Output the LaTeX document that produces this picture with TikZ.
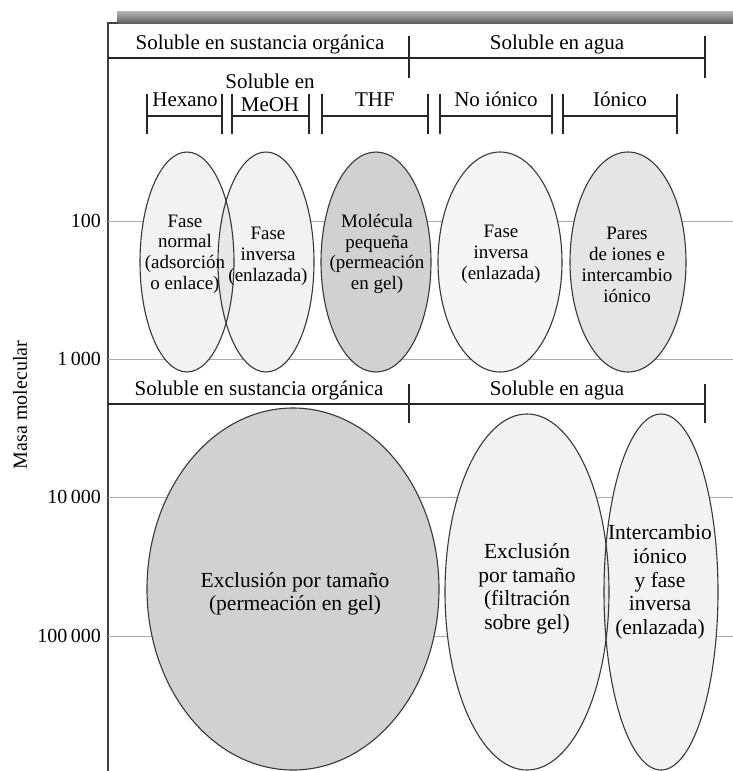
\documentclass[tikz,border=0pt]{standalone}
\usepackage{fontspec}
\setmainfont{Liberation Serif}
\begin{document}
\begin{tikzpicture}[x=1pt,y=-1pt,
  axisline/.style={draw=black!75,line width=1.4pt},
  rule/.style={draw=black!85,line width=1.3pt},
  gridline/.style={draw=black!33,line width=1pt},
  hdr/.style={font=\fontsize{21}{23}\selectfont,anchor=base,inner sep=0pt},
  ticklabel/.style={font=\fontsize{20}{22}\selectfont,anchor=east,inner sep=0pt},
  outline/.style={draw=black!78,line width=1.1pt},
  small/.style={font=\fontsize{19}{20.8}\selectfont,align=center,inner sep=0pt},
  big/.style={font=\fontsize{21.5}{23.6}\selectfont,align=center,inner sep=0pt},
  lightfill/.style={fill=black!5},
  palefill/.style={fill=black!4},
  midfill/.style={fill=black!10},
  darkfill/.style={fill=black!18},
  lapfill/.style={fill=black!9}
]
\useasboundingbox (0,0) rectangle (733,771);

% shaded bar along the top and the molecular mass axis
\shade[top color=black!28,bottom color=black!62] (117,11) rectangle (733,23);
\coordinate (axtop) at (108,23);
\coordinate (axbar) at (118,23);
\coordinate (axbot) at (108,771);
\draw[axisline] (axbar) -- (axtop) -- (axbot);

% grid lines at each decade
\foreach \yy in {221,359,497,636}
  \draw[gridline] (108,\yy) -- (733,\yy);

% axis values
\node[ticklabel] (m2) at (101,221) {100};
\node[ticklabel] (m3) at (101,359) {1\,000};
\node[ticklabel] (m4) at (101,497) {10\,000};
\node[ticklabel] (m5) at (101,636) {100\,000};
\node[font=\fontsize{20}{22}\selectfont,rotate=90,inner sep=0pt] (ylab) at (20,405) {Masa molecular};

% upper header
\coordinate (h1l) at (108,58);
\coordinate (h1r) at (705,58);
\draw[rule] (h1l) -- (h1r);
\draw[rule] (409,36) -- (409,78);
\draw[rule] (705,36) -- (705,78);
\node[hdr] (org1) at (260,49) {Soluble en sustancia orgánica};
\node[hdr] (agua1) at (557,49) {Soluble en agua};

% solvent ranges
\foreach \a/\b in {147/222,232/309,322/428,440/552,563/677}{
  \draw[rule] (\a,116) -- (\b,116);
  \draw[rule] (\a,94) -- (\a,134);
  \draw[rule] (\b,94) -- (\b,134);
}
\node[hdr] (hex) at (185,106) {Hexano};
\node[hdr] (meoh1) at (270,88) {Soluble en};
\node[hdr] (meoh2) at (270,111) {MeOH};
\node[hdr] (thf) at (375,106) {THF};
\node[hdr] (noion) at (496,106) {No iónico};
\node[hdr] (ion) at (620,106) {Iónico};

% lower header
\coordinate (h2l) at (108,404);
\coordinate (h2r) at (705,404);
\draw[rule] (h2l) -- (h2r);
\draw[rule] (409,384) -- (409,423);
\draw[rule] (705,384) -- (705,423);
\node[hdr] (org2) at (259,395) {Soluble en sustancia orgánica};
\node[hdr] (agua2) at (557,395) {Soluble en agua};

% method regions: fills first
\path[lightfill] (187,262) ellipse [x radius=47pt,y radius=110pt];
\path[lightfill] (266,262) ellipse [x radius=48pt,y radius=110pt];
\begin{scope}
  \clip (187,262) ellipse [x radius=47pt,y radius=110pt];
  \path[lapfill] (266,262) ellipse [x radius=48pt,y radius=110pt];
\end{scope}
\path[darkfill] (376,262) ellipse [x radius=55pt,y radius=110pt];
\path[palefill] (500,262) ellipse [x radius=62pt,y radius=110pt];
\path[midfill] (628,262) ellipse [x radius=58pt,y radius=110pt];

\path[darkfill] (293,589) ellipse [x radius=146pt,y radius=181pt];
\path[lightfill] (527,592) ellipse [x radius=82pt,y radius=178pt];
\path[lightfill] (661,592) ellipse [x radius=57pt,y radius=178pt];
\begin{scope}
  \clip (527,592) ellipse [x radius=82pt,y radius=178pt];
  \path[lapfill] (661,592) ellipse [x radius=57pt,y radius=178pt];
\end{scope}

% then the outlines
\path[outline] (187,262) ellipse [x radius=47pt,y radius=110pt];
\path[outline] (266,262) ellipse [x radius=48pt,y radius=110pt];
\path[outline] (376,262) ellipse [x radius=55pt,y radius=110pt];
\path[outline] (500,262) ellipse [x radius=62pt,y radius=110pt];
\path[outline] (628,262) ellipse [x radius=58pt,y radius=110pt];
\path[outline] (293,589) ellipse [x radius=146pt,y radius=181pt];
\path[outline] (527,592) ellipse [x radius=82pt,y radius=178pt];
\path[outline] (661,592) ellipse [x radius=57pt,y radius=178pt];

% region labels
\node[small] (normal) at (185,254) {Fase\\normal\\(adsorción\\o enlace)};
\node[small] (inv1) at (268,256) {Fase\\inversa\\(enlazada)};
\node[small] (molp) at (377,254) {Molécula\\pequeña\\(permeación\\en gel)};
\node[small] (inv2) at (501,254) {Fase\\inversa\\(enlazada)};
\node[small] (pares) at (627,265) {Pares\\de iones e\\intercambio\\iónico};
\node[big] (excl1) at (295,594) {Exclusión por tamaño\\(permeación en gel)};
\node[big] (excl2) at (527,589) {Exclusión\\por tamaño\\(filtración\\sobre gel)};
\node[big] (ionx) at (660,582) {Intercambio\\iónico\\y fase\\inversa\\(enlazada)};
\end{tikzpicture}
\end{document}
